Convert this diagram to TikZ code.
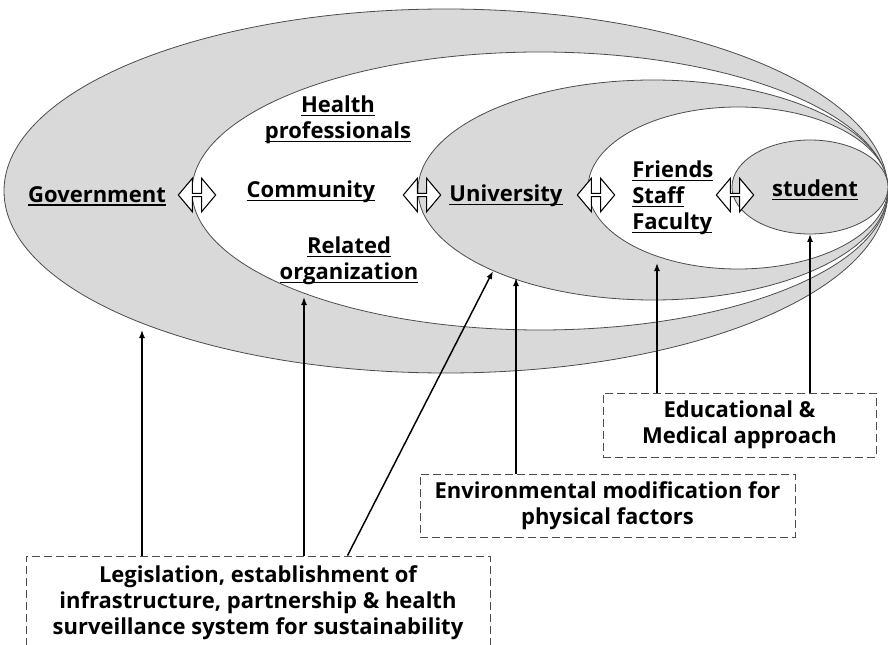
\documentclass[tikz,border=0pt]{standalone}
\usepackage{fontspec}
\setmainfont{Open Sans}
\usepackage{tikz}
\usetikzlibrary{calc, positioning, shapes, arrows.meta}

\definecolor{ringgray}{HTML}{D9D9D9}
\newcommand{\undl}[1]{\setbox0\hbox{#1}\rlap{\rule[-2.6pt]{\wd0}{1.1pt}}\box0}

\begin{document}
\begin{tikzpicture}[x=0.75pt, y=-0.75pt,
					ring/.style={draw=black!70, line width=0.6pt, fill=ringgray},
					hole/.style={draw=black!70, line width=0.6pt, fill=white},
					lbl/.style={font=\fontsize{16.5}{19.5}\selectfont\bfseries, inner sep=0pt},
					dbl/.style={double arrow, draw, line width=0.8pt, fill=white,
						inner sep=0pt, minimum width=25pt, minimum height=28pt,
						double arrow head extend=3.5pt, double arrow tip angle=100},
					approach/.style={lbl, draw=black!70, dash pattern=on 6pt off 3pt,
						line width=0.7pt, align=center},
					up/.style={-{Latex[length=6pt, width=4.5pt]}, line width=1.1pt}]

\useasboundingbox (0,0) rectangle (888,645);

% nested levels, all meeting on the right
\path[ring] (446,191) ellipse [x radius=442, y radius=182];
\path[hole] (540,191) ellipse [x radius=348, y radius=139];
\path[ring] (653,190) ellipse [x radius=235, y radius=110];
\path[hole] (738,188) ellipse [x radius=150, y radius=81];
\path[ring] (810,187) ellipse [x radius=78, y radius=47];

\node[lbl] (govt) at (97,196) {\undl{Government}};
\node[lbl] (comm) at (311,192) {\undl{Community}};
\node[lbl, align=center] (hp) at (338,120) {\undl{Health}\\\undl{professionals}};
\node[lbl, align=center] (ro) at (349,261) {\undl{Related}\\\undl{organization}};
\node[lbl] (univ) at (506,196) {\undl{University}};
\node[lbl, align=left, anchor=west] (fsf) at (632,198) {\undl{Friends}\\\undl{Staff}\\\undl{Faculty}};
\node[lbl] (stud) at (815,190) {\undl{student}};

\node[dbl] (a1) at (197,195) {};
\node[dbl] (a2) at (422,195) {};
\node[dbl] (a3) at (596,195) {};
\node[dbl] (a4) at (735,195) {};

\node[approach, minimum width=204.75pt, minimum height=48pt] (edu) at (739.5,425)
	{Educational \&\\Medical approach};
\node[approach, minimum width=281.25pt, minimum height=47.25pt] (env) at (607.5,505.5)
	{Environmental modification for\\physical factors};
\node[approach, minimum width=348pt, minimum height=70.5pt] (legis) at (258,603)
	{Legislation, establishment of\\infrastructure, partnership \& health\\surveillance system for sustainability};

\coordinate (govt-tip) at (142,330);
\coordinate (comm-tip) at (304,297);
\coordinate (univ-tip) at (493,271);
\coordinate (env-tip) at (516,278);
\coordinate (fsf-tip) at (657,263);
\coordinate (stud-tip) at (810,234);

\draw[up] (legis.north -| govt-tip) -- (govt-tip);
\draw[up] (legis.north -| comm-tip) -- (comm-tip);
\draw[up] ($(legis.north west)+(322,0)$) -- (univ-tip);
\draw[up] (env.north -| env-tip) -- (env-tip);
\draw[up] (edu.north -| fsf-tip) -- (fsf-tip);
\draw[up] (edu.north -| stud-tip) -- (stud-tip);
\end{tikzpicture}
\end{document}
